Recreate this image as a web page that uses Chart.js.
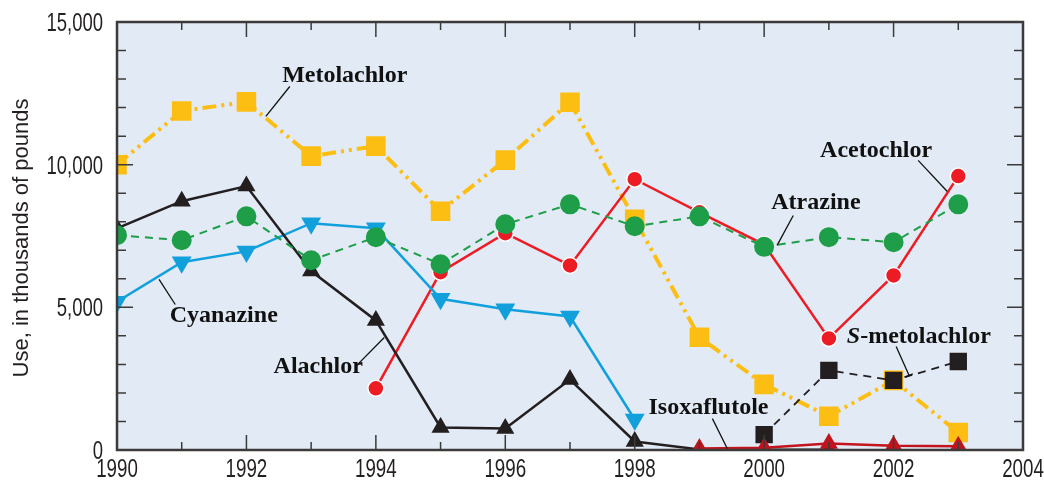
<!DOCTYPE html>
<html>
<head>
<meta charset="utf-8">
<script src="https://cdn.jsdelivr.net/npm/chart.js@4.4.1/dist/chart.umd.min.js"></script>
<style>
  html, body { margin: 0; padding: 0; background: #fff; }
  #wrap { width: 1044px; height: 480px; }
</style>
</head>
<body>
<div id="wrap"><canvas id="herbChart" width="1044" height="480"></canvas></div>
<script>
// data (thousands of pounds)
const years = [1990, 1991, 1992, 1993, 1994, 1995, 1996, 1997, 1998, 1999, 2000, 2001, 2002, 2003];
const metolachlor = [10000, 11880, 12200, 10300, 10650, 8370, 10160, 12190, 8090, 3950, 2300, 1180, 2440, 610];
const alachlor = [7770, 8720, 9250, 6270, 4540, 790, 750, 2470, 300, 20, 10, 10, null, null];
const atrazine = [7530, 7350, 8190, 6650, 7460, 6510, 7910, 8610, 7840, 8190, 7120, 7460, 7280, 8610];
const cyanazine = [5200, 6580, 6960, 7950, 7770, 5300, 4930, 4680, 1070, null, null, null, null, null];
const acetochlor = [null, null, null, null, 2160, 6230, 7600, 6470, 9490, 8330, 7200, 3910, 6120, 9600];
const sMetolachlor = [null, null, null, null, null, null, null, null, null, null, 540, 2790, 2440, 3100];
const isoxaflutole = [null, null, null, null, null, null, null, null, null, 50, 80, 230, 150, 130];

const yTicks = [0, 5000, 10000, 15000];
const xTicks = [1990, 1992, 1994, 1996, 1998, 2000, 2002, 2004];
const yTitle = 'Use, in thousands of pounds';

// label text, position and leader line in data units
const callouts = [
    { text: 'Metolachlor', x: 1993.52, y: 13100, line: [1992.30, 11690, 1992.67, 12740] },
    { text: 'Acetochlor', x: 2001.73, y: 10500, line: [2002.38, 10150, 2002.83, 9060] },
    { text: 'Atrazine', x: 2000.80, y: 8650, line: [2000.45, 8220, 2000.20, 7170] },
    { text: 'Cyanazine', x: 1991.65, y: 4690, line: [1990.65, 5980, 1990.90, 5100] },
    { text: 'Alachlor', x: 1993.11, y: 2900, line: [1993.69, 2930, 1994.13, 3940] },
    { text: 'Isoxaflutole', x: 1999.14, y: 1490, line: [1999.20, 1100, 1999.43, 50] },
    { text: 'S-metolachlor', x: 2002.39, y: 3980, line: [2002.04, 3630, 2002.24, 2610], italicFirst: true, cap: true }
];

const axisColor = '#3b3b3b';
const sansFont = "'Liberation Sans', Arimo, Arial, sans-serif";
const serifFont = "'Liberation Serif', 'DejaVu Serif', serif";

function pts(arr) {
    return years.map((yr, i) => ({ x: yr, y: arr[i] }));
}

// condensed text: squeeze horizontally
function narrowText(ctx, txt, x, y, align, squeeze) {
    ctx.save();
    ctx.translate(x, y);
    ctx.scale(squeeze, 1);
    ctx.textAlign = align;
    ctx.fillText(txt, 0, 0);
    ctx.restore();
}

const frame = {
    id: 'frame',
    beforeDatasetsDraw(chart) {
        const { ctx, chartArea: a } = chart;
        ctx.save();
        ctx.fillStyle = '#e2eaf5';
        ctx.fillRect(a.left, a.top, a.right - a.left, a.bottom - a.top);
        ctx.restore();
    },
    afterDatasetsDraw(chart) {
        const { ctx, chartArea: a, scales } = chart;
        const xs = scales.x, ys = scales.y;
        ctx.save();
        ctx.strokeStyle = axisColor;
        ctx.lineWidth = 1.5;
        ctx.beginPath();
        for (let yr = 1990; yr <= 2004; yr++) {
            const px = xs.getPixelForValue(yr);
            const len = yr % 2 === 0 ? 15 : 8;
            ctx.moveTo(px, a.bottom); ctx.lineTo(px, a.bottom - len);
            ctx.moveTo(px, a.top); ctx.lineTo(px, a.top + len);
        }
        for (let v = 0; v <= 15000; v += 1000) {
            const py = ys.getPixelForValue(v);
            const len = v % 5000 === 0 ? 16 : 9;
            ctx.moveTo(a.left, py); ctx.lineTo(a.left + len, py);
            ctx.moveTo(a.right, py); ctx.lineTo(a.right - len, py);
        }
        ctx.stroke();
        ctx.lineWidth = 2.5;
        ctx.strokeRect(a.left, a.top, a.right - a.left, a.bottom - a.top);

        // tick labels and axis title
        ctx.fillStyle = '#231f20';
        ctx.font = '25px ' + sansFont;
        ctx.textBaseline = 'alphabetic';
        yTicks.forEach(v => {
            narrowText(ctx, v.toLocaleString('en-US'), a.left - 14, ys.getPixelForValue(v) + 9, 'right', 0.74);
        });
        xTicks.forEach(v => {
            narrowText(ctx, String(v), xs.getPixelForValue(v), a.bottom + 27, 'center', 0.75);
        });
        ctx.save();
        ctx.font = '22px ' + sansFont;
        ctx.translate(28, (a.top + a.bottom) / 2 + 2);
        ctx.rotate(-Math.PI / 2);
        narrowText(ctx, yTitle, 0, 0, 'center', 1);
        ctx.restore();

        // callouts
        ctx.fillStyle = '#111';
        ctx.textBaseline = 'middle';
        ctx.lineWidth = 1.3;
        ctx.strokeStyle = '#111';
        callouts.forEach(c => {
            const l = c.line;
            const x1 = xs.getPixelForValue(l[0]), y1 = ys.getPixelForValue(l[1]);
            const x2 = xs.getPixelForValue(l[2]), y2 = ys.getPixelForValue(l[3]);
            ctx.beginPath();
            ctx.moveTo(x1, y1);
            ctx.lineTo(x2, y2);
            if (c.cap) {
                const dx = x2 - x1, dy = y2 - y1, d = Math.hypot(dx, dy);
                const nx = -dy / d * 4, ny = dx / d * 4;
                ctx.moveTo(x2 - nx, y2 - ny);
                ctx.lineTo(x2 + nx, y2 + ny);
            }
            ctx.stroke();
            const cx = xs.getPixelForValue(c.x), cy = ys.getPixelForValue(c.y);
            if (c.italicFirst) {
                ctx.font = 'italic bold 24px ' + serifFont;
                const w1 = ctx.measureText('S').width;
                ctx.font = 'bold 24px ' + serifFont;
                const w2 = ctx.measureText(c.text.slice(1)).width;
                const x0 = cx - (w1 + w2) / 2;
                ctx.textAlign = 'left';
                ctx.font = 'italic bold 24px ' + serifFont;
                ctx.fillText('S', x0, cy);
                ctx.font = 'bold 24px ' + serifFont;
                ctx.fillText(c.text.slice(1), x0 + w1, cy);
            } else {
                ctx.font = 'bold 24px ' + serifFont;
                ctx.textAlign = 'center';
                ctx.fillText(c.text, cx, cy);
            }
        });
        ctx.restore();
    }
};

const ctx = document.getElementById('herbChart');

new Chart(ctx, {
    type: 'line',
    data: {
        datasets: [
            {
                label: 'Isoxaflutole', data: pts(isoxaflutole),
                borderColor: '#c1141c', backgroundColor: '#c1141c', borderWidth: 2.5,
                pointStyle: 'triangle', pointRadius: 8
            },
            {
                label: 'S-metolachlor', data: pts(sMetolachlor),
                borderColor: '#231f20', backgroundColor: '#231f20', borderWidth: 1.8, borderDash: [8, 6],
                pointStyle: 'rect', pointRadius: 11
            },
            {
                label: 'Atrazine', data: pts(atrazine),
                borderColor: '#1e9e48', backgroundColor: '#1e9e48', borderWidth: 2, borderDash: [8, 6],
                pointStyle: 'circle', pointRadius: 9
            },
            {
                label: 'Alachlor', data: pts(alachlor),
                borderColor: '#231f20', backgroundColor: '#231f20', borderWidth: 2.5,
                pointStyle: 'triangle', pointRadius: 8
            },
            {
                label: 'Cyanazine', data: pts(cyanazine),
                borderColor: '#12a0dc', backgroundColor: '#12a0dc', borderWidth: 2.5,
                pointStyle: 'triangle', rotation: 180, pointRadius: 9
            },
            {
                label: 'Acetochlor', data: pts(acetochlor),
                borderColor: '#ed1c24', backgroundColor: '#ed1c24', borderWidth: 2.5,
                pointStyle: 'circle', pointRadius: 8, pointBorderColor: '#ffffff', pointBorderWidth: 1.5
            },
            {
                label: 'Metolachlor', data: pts(metolachlor),
                borderColor: '#fdbe14', backgroundColor: '#fdbe14', borderWidth: 4,
                borderDash: [14, 5, 3, 5, 3, 5],
                pointStyle: 'rect', pointRadius: 11
            }
        ]
    },
    options: {
        responsive: false,
        animation: false,
        spanGaps: false,
        layout: { padding: { top: 22, right: 21, left: 0, bottom: 0 } },
        plugins: {
            legend: { display: false },
            tooltip: { enabled: false }
        },
        elements: {
            line: { tension: 0, fill: false },
            point: { borderWidth: 0, hoverRadius: 0 }
        },
        scales: {
            x: {
                type: 'linear', min: 1990, max: 2004,
                afterBuildTicks: s => { s.ticks = xTicks.map(v => ({ value: v })); },
                afterFit: s => { s.height = 30; },
                grid: { display: false },
                border: { display: false },
                ticks: { display: false }
            },
            y: {
                min: 0, max: 15000,
                afterBuildTicks: s => { s.ticks = yTicks.map(v => ({ value: v })); },
                afterFit: s => { s.width = 117; },
                grid: { display: false },
                border: { display: false },
                ticks: { display: false }
            }
        }
    },
    plugins: [frame]
});
</script>
</body>
</html>
